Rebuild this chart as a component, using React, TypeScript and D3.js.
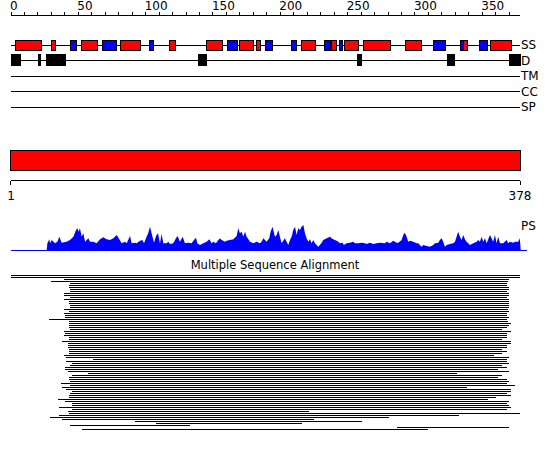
import React from "react";
import * as d3 from "d3";

const SEQ_LEN = 378;
const TOP_TICKS = d3.range(0, 371, 10);
const TOP_LABELS = [0, 50, 100, 150, 200, 250, 300, 350];
const TRACK_LABELS = ["SS", "D", "TM", "CC", "SP"];

// secondary structure: helices (red) and strands (blue), residue ranges
const HELICES: [number, number][] = [
  [3, 23], [30, 33], [52, 64], [81, 96], [118, 122], [145, 157], [170, 180], [182, 185],
  [216, 226], [238, 242], [248, 258], [262, 282], [293, 305], [336, 339], [356, 372],
];
const STRANDS: [number, number][] = [
  [44, 49], [68, 78], [103, 106], [161, 168], [189, 194], [208, 212], [233, 237],
  [244, 246], [314, 323], [334, 336], [348, 354],
];
// disorder regions
const DISORDER: [number, number][] = [
  [0, 7], [20.3, 21.8], [26.7, 40.6], [139, 145], [257.5, 260], [324.5, 329], [370.5, 378.5],
];

// PSIPRED-like profile: [residue, value]
const PS_PROFILE: [number, number][] = [
  [26.5,0],[27,20],[28.5,32],[29,20],[30.2,30],[32.7,20],[34.4,25],[35.9,40],[37.6,22],[41.3,25],[43.8,30],[46.3,40],[48.3,60],[49.3,65],[50.2,55],[51.2,65],[52.5,40],[53.7,50],[55,25],[57.4,35],[58.7,25],[61.1,25],[63.6,20],[66.1,32],[68.6,38],[71,32],[73.5,30],[76,35],[78.5,45],[80,35],[82.2,20],[84.7,25],[85.9,20],[88.4,42],[89.6,20],[92.1,22],[93.3,20],[95.8,28],[97.5,30],[98.8,20],[100.7,40],[102,52],[103.2,70],[104.4,50],[106.2,22],[107.7,42],[109.2,50],[110.6,20],[111.9,48],[113.1,20],[115.6,20],[116.8,25],[118.1,18],[120.5,20],[122.5,35],[123.7,42],[125.5,25],[127.5,40],[129.2,20],[131.7,22],[134.1,20],[135.9,30],[137.4,37],[138.4,20],[140.3,15],[142.8,20],[145.3,25],[147.3,32],[149,20],[150.2,25],[152.2,20],[154,30],[155.2,35],[156.4,30],[158.9,25],[160.1,28],[162.6,30],[165.1,32],[167.6,42],[168.8,65],[170,50],[171.3,55],[172.5,40],[173.8,55],[175,40],[177.5,25],[180,20],[182.4,25],[184.9,20],[186.1,25],[187.4,35],[188.6,30],[189.8,25],[191.8,35],[192.8,55],[194.2,70],[196,40],[197.3,45],[198.5,60],[199.7,40],[201,20],[203.4,35],[204.7,25],[205.9,15],[207.2,30],[208.4,40],[209.6,60],[210.9,70],[212.1,45],[213.3,65],[214.6,60],[215.8,70],[217.1,75],[218.3,50],[219.5,35],[220.8,25],[222,32],[223.2,20],[224.5,30],[225.7,20],[228.2,10],[229.4,15],[230.7,22],[231.9,30],[234.4,35],[236.9,40],[238.1,35],[239.3,32],[241.8,28],[243,25],[244.3,20],[246.3,22],[247.2,15],[249.2,20],[251.7,22],[254.2,25],[255.4,20],[257.9,20],[260.4,22],[262.8,20],[264.1,18],[266.6,22],[269,18],[271.5,20],[274,22],[277.7,20],[278.9,25],[281.4,20],[283.9,28],[286.4,22],[287.6,22],[290.1,30],[291.3,45],[292.5,52],[293.8,40],[295,25],[296.3,28],[298.7,25],[301.2,20],[302.4,20],[304.9,10],[306.2,15],[308.6,12],[311.1,10],[313.6,15],[314.8,20],[317.3,22],[318.5,30],[319.8,35],[321,25],[322.2,10],[323.5,15],[326,18],[328.4,20],[329.7,25],[330.9,40],[332.1,55],[333.4,40],[334.6,30],[335.9,45],[337.1,32],[338.3,25],[339.6,20],[340.8,15],[343.3,20],[345.8,25],[347,30],[348.2,25],[349.5,40],[350.7,25],[352,35],[353.2,20],[355.7,45],[356.9,35],[358.1,25],[359.4,45],[360.6,20],[361.8,40],[363.1,20],[365.6,20],[368,30],[369.3,20],[370.5,25],[373,22],[374.2,25],[376.7,25],[377.9,35],[378.5,0],
];

// multiple sequence alignment hits: start / end residue per row
const MSA_START = [0,0,39,30,44,43,43,44,44,39,39,44,39,43,43,44,44,39,43,39,40,40,28,43,43,43,43,44,39,40,39,43,43,38,42,42,42,43,43,43,39,41,61,41,45,44,40,40,42,57,45,43,43,44,37,44,38,41,45,44,43,43,35,40,45,45,36,45,42,43,36,29,38,92,108,44,287,53];
const MSA_END = [378,378,370,369,368,368,370,370,368,370,370,368,370,370,370,370,370,369,370,368,368,370,368,369,371,370,368,365,371,368,368,368,365,371,371,368,368,365,368,365,359,370,368,368,370,365,368,362,370,331,365,362,368,370,368,374,339,371,371,368,371,360,354,370,368,370,371,368,221,378,333,281,225,261,216,133,370,310];

const FONT = "'DejaVu Sans', sans-serif";

export default function App() {
  const x = d3.scaleLinear().domain([0, SEQ_LEN]).range([11, 520]);
  const trackY = d3.scalePoint<string>().domain(TRACK_LABELS).range([44.5, 106.5]);
  const psY = d3.scaleLinear().domain([0, 75]).range([250, 225]);
  const rowY = d3.scaleLinear().domain([0, 1]).range([275, 277]);
  const area = d3
    .area<[number, number]>()
    .x((d) => x(d[0]))
    .y0(psY(0))
    .y1((d) => psY(d[1]));
  const xEnd = x(SEQ_LEN);

  const ssY = trackY("SS")!;
  const dY = trackY("D")!;

  return (
    <svg
      width={550}
      height={451}
      style={{ position: "absolute", left: 0, top: 0, background: "#fff" }}
      fontFamily={FONT}
      fontSize={12}
    >
      <rect width={550} height={451} fill="#fff" />
      {/* top axis */}
      <g shapeRendering="crispEdges">
        <line x1={x(0)} x2={xEnd} y1={15.5} y2={15.5} stroke="#000" />
        {TOP_TICKS.map((t) => (
          <line key={t} x1={x(t)} x2={x(t)} y1={11.5} y2={15.5} stroke="#000" />
        ))}
      </g>
      {TOP_LABELS.map((t) => (
        <text key={t} x={x(t) - 1} y={10} textAnchor="start">
          {t}
        </text>
      ))}

      {/* track lines */}
      <g shapeRendering="crispEdges">
        {TRACK_LABELS.map((k) => (
          <line key={k} x1={x(0) - 0.5} x2={xEnd} y1={Math.round(trackY(k)!) + 0.5} y2={Math.round(trackY(k)!) + 0.5} stroke="#000" />
        ))}
        {HELICES.map(([a, b], i) => (
          <rect key={"h" + i} x={x(a)} y={Math.round(ssY) - 4.5} width={x(b) - x(a)} height={10} fill="#ff0000" stroke="#000" />
        ))}
        {STRANDS.map(([a, b], i) => (
          <rect key={"s" + i} x={x(a)} y={Math.round(ssY) - 4.5} width={x(b) - x(a)} height={10} fill="#0000ff" stroke="#000" />
        ))}
        {DISORDER.map(([a, b], i) => (
          <rect key={"d" + i} x={x(a)} y={Math.round(dY) - 5.5} width={x(b) - x(a)} height={11} fill="#000" stroke="#000" />
        ))}
      </g>
      {TRACK_LABELS.map((k) => (
        <text key={k} x={xEnd + 1} y={trackY(k)! + 4.5}>
          {k}
        </text>
      ))}

      {/* full-length bar */}
      <g shapeRendering="crispEdges">
        <rect x={x(0) - 0.5} y={150.5} width={xEnd - x(0) + 0.5} height={20} fill="#ff0000" stroke="#000" />
        <line x1={x(0) - 0.5} x2={xEnd} y1={180.5} y2={180.5} stroke="#000" />
        <line x1={x(0) - 0.5} x2={x(0) - 0.5} y1={180.5} y2={185} stroke="#000" />
        <line x1={xEnd} x2={xEnd} y1={180.5} y2={185} stroke="#000" />
      </g>
      <text x={x(0)} y={200} textAnchor="middle">1</text>
      <text x={xEnd} y={200} textAnchor="middle">{SEQ_LEN}</text>

      {/* PS profile */}
      <path d={area(PS_PROFILE) || ""} fill="#0000ff" />
      <line x1={x(0)} x2={xEnd + 7} y1={psY(0) + 0.5} y2={psY(0) + 0.5} stroke="#0000ff" shapeRendering="crispEdges" />
      <text x={xEnd + 1} y={230}>PS</text>

      {/* MSA */}
      <text x={275} y={269} textAnchor="middle" fontSize={11.5}>Multiple Sequence Alignment</text>
      <g shapeRendering="crispEdges">
        {MSA_START.map((s, i) => (
          <rect key={i} x={x(s)} y={rowY(i)} width={x(MSA_END[i]) - x(s)} height={1} fill="#000" />
        ))}
      </g>
    </svg>
  );
}
